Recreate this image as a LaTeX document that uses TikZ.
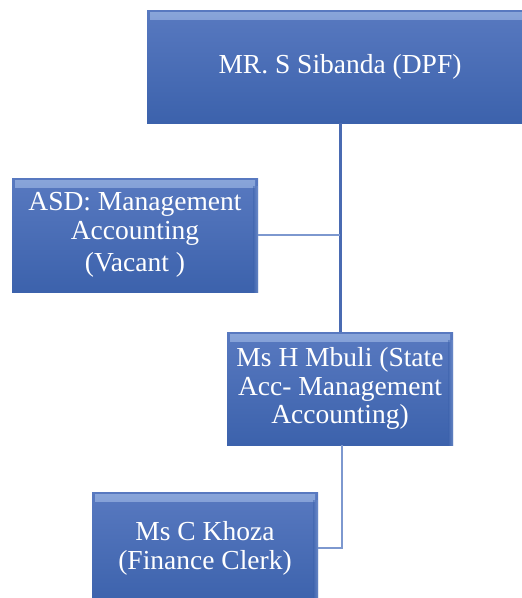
\documentclass[tikz,border=0pt]{standalone}
\usepackage{fontspec}
\setmainfont{Liberation Serif}
\definecolor{boxtop}{HTML}{5879C0}
\definecolor{boxbot}{HTML}{3C62AC}
\definecolor{boxhl}{HTML}{9FB9E6}
\definecolor{boxedge}{HTML}{8AA4D8}
\definecolor{linkdark}{HTML}{4A6BB2}
\definecolor{linklight}{HTML}{7D98CF}
\tikzset{
  orgbox/.style={rectangle, inner sep=0pt, minimum height=113pt,
    top color=boxtop, bottom color=boxbot, text=white, align=center,
    font=\fontsize{27.5}{28.5}\selectfont,
    path picture={
      \shade[top color=boxhl, bottom color=boxtop, opacity=0.7]
        ([xshift=3pt,yshift=-2pt]path picture bounding box.north west)
        rectangle ([xshift=-3pt,yshift=-9pt]path picture bounding box.north east);
      \shade[left color=boxbot, right color=boxedge, opacity=0.5]
        ([xshift=-5pt,yshift=-8pt]path picture bounding box.north east)
        rectangle (path picture bounding box.south east);
    }},
  mainlink/.style={draw=linkdark, line width=3pt},
  sidelink/.style={draw=linklight, line width=1.5pt}
}
\begin{document}
\begin{tikzpicture}[x=1pt,y=-1pt]
\useasboundingbox (0,0) rectangle (522,598);
\clip (0,0) rectangle (522,598);
% reporting lines
\node[orgbox, minimum width=386pt] (dpf) at (340,66.5) {MR. S Sibanda (DPF)};
\node[orgbox, minimum width=246pt, minimum height=114pt] (asd) at (135,235)
  {ASD: Management\\Accounting\\[4pt](Vacant )};
\node[orgbox, minimum width=226pt] (sam) at (340,388.5)
  {Ms H Mbuli (State\\Acc- Management\\Accounting)};
\node[orgbox, minimum width=226pt] (clerk) at (205,548.5)
  {Ms C Khoza\\(Finance Clerk)};
\coordinate (elbow) at (342,548);
\draw[mainlink] (dpf.south) -- (sam.north);
\draw[sidelink] (asd.east) -- (asd.east -| dpf.south);
\draw[sidelink] (sam.south -| elbow) -- (elbow) -- (clerk.east |- elbow);
\end{tikzpicture}
\end{document}
